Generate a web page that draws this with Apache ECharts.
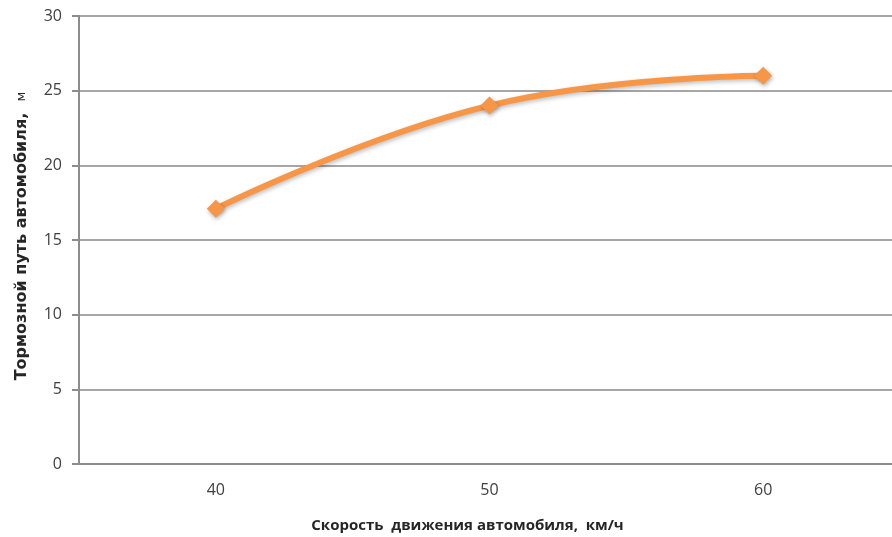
<!DOCTYPE html>
<html>
<head>
<meta charset="utf-8">
<script src="https://cdn.jsdelivr.net/npm/echarts@6/dist/echarts.min.js"></script>
<style>
  html, body { margin: 0; padding: 0; background: #fff; }
  #chart { width: 892px; height: 537px; }
</style>
</head>
<body>
<div id="chart"></div>
<script>
// Speed categories (km/h) and braking distance (m)
const speeds = ['40', '50', '60'];
const brakingDistance = [17.1, 24, 26];
const yTicks = { min: 0, max: 30, interval: 5 };

const xTitle = 'Скорость  движения автомобиля,  км/ч';
const yTitleBold = 'Тормозной путь автомобиля,  ';
const yTitleUnit = 'м';

const font = '"Open Sans", "DejaVu Sans", sans-serif';
const titleFont = '"DejaVu Sans", sans-serif';

const chart = echarts.init(document.getElementById('chart'));
chart.setOption({
  animation: false,
  backgroundColor: '#ffffff',
  grid: { left: 79, top: 16, width: 821, bottom: 73, containLabel: false, outerBoundsMode: 'none' },
  xAxis: {
    type: 'category',
    data: speeds,
    boundaryGap: true,
    axisLine: { lineStyle: { color: '#8c8c8c', width: 2 } },
    axisTick: { show: false },
    axisLabel: { color: '#404040', fontSize: 16, fontFamily: font, margin: 18 },
    name: xTitle,
    nameLocation: 'middle',
    nameGap: 54,
    nameTextStyle: { color: '#262626', fontSize: 15, fontWeight: 'bold', fontFamily: font, padding: [0, 44, 0, 0] }
  },
  yAxis: {
    type: 'value',
    min: yTicks.min,
    max: yTicks.max,
    interval: yTicks.interval,
    axisLine: { show: true, lineStyle: { color: '#8c8c8c', width: 2 } },
    axisTick: { show: true, length: 7, lineStyle: { color: '#8c8c8c', width: 2 } },
    splitLine: { lineStyle: { color: '#a6a6a6', width: 2 } },
    axisLabel: { color: '#404040', fontSize: 16, fontFamily: font, margin: 17 },
    name: '{b|' + yTitleBold + '}{n|' + yTitleUnit + '}',
    nameLocation: 'middle',
    nameGap: 49,
    nameRotate: 90,
    nameTextStyle: {
      rich: {
        b: { color: '#262626', fontSize: 16, fontWeight: 'bold', fontFamily: titleFont },
        n: { color: '#262626', fontSize: 13, fontWeight: 'normal', fontFamily: titleFont }
      },
      padding: [0, 0, 0, 8]
    }
  },
  series: [{
    type: 'line',
    data: brakingDistance,
    smooth: 0.45,
    symbol: 'diamond',
    symbolSize: 18,
    lineStyle: {
      color: '#f79646', width: 6,
      shadowColor: 'rgba(0,0,0,0.25)', shadowBlur: 4, shadowOffsetX: 1, shadowOffsetY: 2
    },
    itemStyle: {
      color: '#f79646',
      shadowColor: 'rgba(0,0,0,0.3)', shadowBlur: 4, shadowOffsetX: 1, shadowOffsetY: 2
    }
  }]
});
</script>
</body>
</html>
